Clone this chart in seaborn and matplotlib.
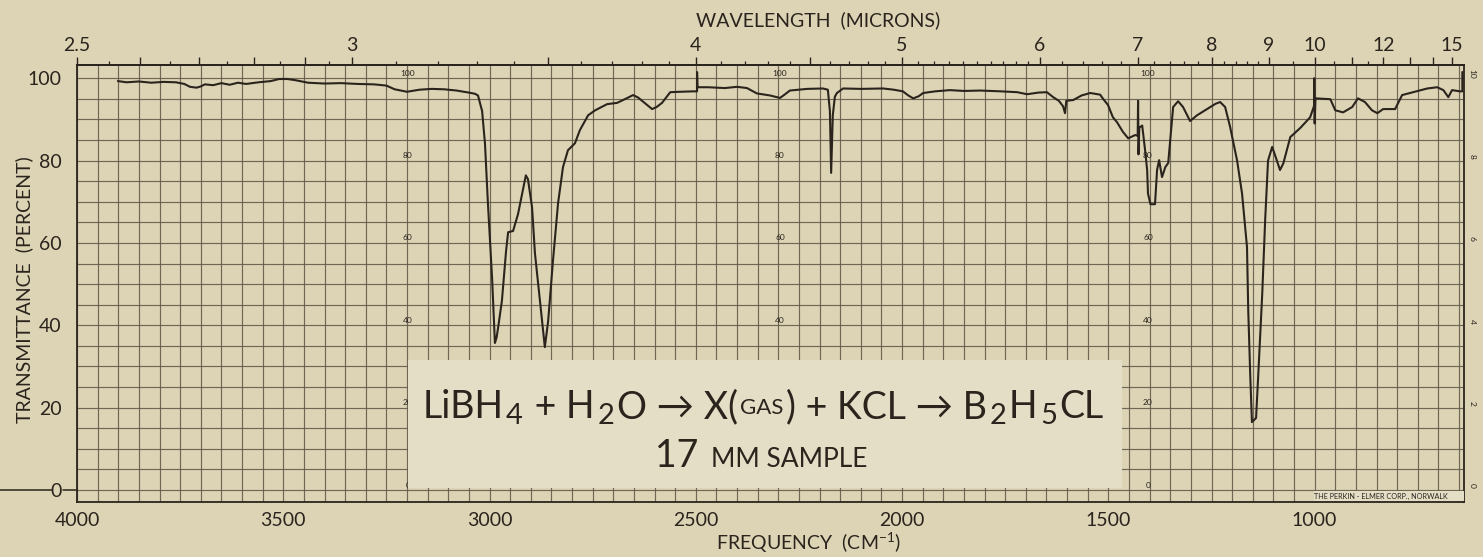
import numpy as np
import pandas as pd
import matplotlib
matplotlib.use("Agg")
import matplotlib.pyplot as plt
import seaborn as sns
from matplotlib.patches import Rectangle
from matplotlib.lines import Line2D

# ---------------- data ----------------
freq = [3901, 3880, 3850, 3820, 3790, 3760, 3740, 3726, 3710, 3700, 3690, 3670, 3650, 3630,
        3610, 3590, 3560, 3530, 3510, 3490, 3470, 3440, 3400, 3360, 3320, 3280, 3250, 3230,
        3200, 3170, 3140, 3110, 3080, 3050, 3035, 3028, 3018, 3011, 3004, 2994, 2987, 2983,
        2979, 2970, 2960, 2955, 2943, 2931, 2921, 2912, 2907, 2897, 2890, 2878, 2866, 2858,
        2846, 2834, 2822, 2810, 2800, 2793, 2781, 2761, 2744, 2715, 2691, 2670, 2652, 2640,
        2628, 2606, 2595, 2582, 2562, 2538, 2507, 2497, 2497, 2496, 2470, 2430, 2400, 2376,
        2352, 2320, 2296, 2285, 2272, 2230, 2192, 2180, 2175, 2172, 2168, 2163, 2158, 2143,
        2100, 2046, 2020, 1998, 1985, 1973, 1960, 1949, 1920, 1884, 1850, 1811, 1760, 1721,
        1697, 1670, 1649, 1634, 1620, 1610, 1605, 1602, 1585, 1565, 1544, 1520, 1513, 1501,
        1489, 1479, 1465, 1452, 1435, 1429, 1428, 1427, 1425, 1418, 1411, 1406, 1404, 1398,
        1387, 1382, 1377, 1370, 1362, 1355, 1350, 1343, 1331, 1319, 1302, 1285, 1261, 1240,
        1229, 1217, 1205, 1188, 1176, 1164, 1161, 1156, 1152, 1142, 1137, 1127, 1120, 1113,
        1103, 1096, 1084, 1076, 1059, 1035, 1011, 1003, 1001, 1001, 1000, 998, 980, 962,
        950, 931, 909, 895, 878, 861, 848, 834, 805, 788, 761, 727, 703, 688, 676, 667,
        647, 642, 642]
trans = [99.3, 99.0, 99.2, 98.9, 99.1, 99.0, 98.6, 97.9, 97.7, 98.0, 98.5, 98.3, 98.8, 98.4,
         98.9, 98.6, 99.0, 99.3, 99.8, 99.8, 99.5, 98.9, 98.7, 98.8, 98.6, 98.5, 98.2, 97.3,
         96.7, 97.2, 97.4, 97.3, 97.0, 96.5, 96.2, 95.8, 92.0, 84.0, 69.7, 51.7, 35.7, 37.0,
         39.6, 46.0, 58.0, 62.6, 62.9, 67.0, 72.0, 76.4, 75.5, 68.7, 57.5, 46.0, 34.7, 41.0,
         56.0, 69.6, 78.4, 82.5, 83.5, 84.2, 87.4, 91.0, 92.2, 93.7, 94.0, 95.0, 95.9, 95.3,
         94.3, 92.5, 93.0, 94.0, 96.6, 96.7, 96.8, 96.8, 101.5, 97.8, 97.8, 97.6, 97.9, 97.6,
         96.3, 95.8, 95.2, 96.0, 97.0, 97.4, 97.5, 97.2, 92.0, 77.0, 91.0, 95.5, 96.4, 97.5,
         97.4, 97.5, 97.2, 96.8, 95.8, 95.1, 95.6, 96.4, 96.8, 97.1, 96.9, 97.0, 96.8, 96.6,
         96.1, 96.5, 96.6, 95.4, 94.5, 93.2, 91.5, 94.5, 94.7, 95.8, 96.4, 96.0, 95.0, 93.5,
         90.5, 89.3, 87.0, 85.4, 86.2, 86.0, 94.5, 81.5, 88.0, 88.5, 82.5, 77.7, 72.0, 69.4,
         69.4, 77.7, 80.1, 76.0, 78.4, 79.4, 85.0, 93.0, 94.4, 93.0, 89.6, 91.0, 92.5, 93.8,
         94.2, 93.0, 88.2, 80.0, 72.0, 59.0, 43.7, 27.4, 16.5, 17.5, 27.4, 47.8, 65.5, 80.0,
         83.3, 81.3, 77.7, 79.3, 85.7, 87.9, 90.5, 92.8, 93.5, 100.0, 89.0, 95.1, 95.0, 94.9,
         92.2, 91.7, 93.0, 95.1, 94.2, 92.2, 91.5, 92.5, 92.5, 95.9, 96.6, 97.5, 97.8, 97.1, 95.4, 97.1,
         96.8, 96.8, 101.5]

freq_ticks = [4000, 3500, 3000, 2500, 2000, 1500, 1000]
trans_ticks = [0, 20, 40, 60, 80, 100]
wl_labeled = [2.5, 3, 4, 5, 6, 7, 8, 9, 10, 12, 15]
wl_tall = [2.6, 2.7, 2.8, 2.9, 3.5, 4.5, 11, 13, 14]
wl_short = [2.55, 2.65, 2.75, 2.85, 2.95, 3.1, 3.2, 3.3, 3.4, 3.6, 3.7, 3.8, 3.9,
            4.1, 4.2, 4.3, 4.4, 4.6, 4.7, 4.8, 4.9, 5.1, 5.2, 5.3, 5.4, 5.5, 5.6, 5.7,
            5.8, 5.9, 6.2, 6.4, 6.6, 6.8, 7.2, 7.4, 7.6, 7.8, 8.2, 8.4, 8.6, 8.8, 9.5,
            10.5, 11.5]
# small scale numbers printed on the chart paper (those hidden by the label are omitted)
grid_scale = {3198: [0, 20, 40, 60, 80, 100], 2296: [40, 60, 80, 100],
              1404: [0, 20, 40, 60, 80, 100]}
right_scale = ["10", "8", "6", "4", "2", "0"]

title_pieces = [("LiBH", "big"), ("4", "sub"), (" + H", "big"), ("2", "sub"), ("O → X(", "big"),
                ("GAS", "small"), (") + KCL → B", "big"), ("2", "sub"), ("H", "big"), ("5", "sub"),
                ("CL", "big")]
sample_pieces = [("17 ", "big"), ("MM SAMPLE", "mid")]

# ---------------- style ----------------
sns.set_style("white")
FONT = ["Lato", "DejaVu Sans"]
plt.rcParams["font.family"] = FONT
plt.rcParams["mathtext.default"] = "regular"
BG = "#ddd4b6"
BOX = "#e5dec7"
INK = "#2a241d"
GRID = "#645c4b"

W, H = 1483, 557
fig = plt.figure(figsize=(W / 100, H / 100), dpi=100, facecolor=BG)
L, R, T, B = 77, 1464, 65, 502
ax = fig.add_axes([L / W, 1 - B / H, (R - L) / W, (B - T) / H])
ax.set_facecolor(BG)

df = pd.DataFrame({"freq": freq, "T": trans})
sns.lineplot(data=df, x="freq", y="T", sort=False, estimator=None, color=INK,
             linewidth=1.5, ax=ax, zorder=2)

ax.set_xlim(4000, 638)
ax.set_ylim(-2.9, 103.2)
ax.set_xlabel("")
ax.set_ylabel("")

ax.set_xticks(freq_ticks)
ax.set_xticklabels([str(v) for v in freq_ticks])
ax.set_xticks(np.arange(650, 4001, 50), minor=True)
ax.set_yticks(trans_ticks)
ax.set_yticklabels([str(v) for v in trans_ticks])
ax.set_yticks(np.arange(0, 101, 5), minor=True)
ax.tick_params(axis="x", which="major", direction="out", length=4.5, width=1.0,
               color=INK, labelsize=14, labelcolor=INK, pad=3)
ax.tick_params(axis="both", which="minor", length=0)
ax.tick_params(axis="y", which="major", length=0, labelsize=14, labelcolor=INK, pad=11)
ax.grid(True, which="both", color=GRID, linewidth=0.85, alpha=0.9)
ax.set_axisbelow(True)
for s in ax.spines.values():
    s.set_color(INK)
    s.set_linewidth(1.3)

# top wavelength axis
def f2w(x):
    x = np.asarray(x, dtype=float)
    with np.errstate(divide="ignore"):
        return 1e4 / x

sec = ax.secondary_xaxis("top", functions=(f2w, f2w))
major_w = wl_labeled + wl_tall
major_lab = [("%g" % v) for v in wl_labeled] + [""] * len(wl_tall)
sec.set_xticks(major_w)
sec.set_xticklabels(major_lab)
sec.set_xticks(wl_short, minor=True)
sec.tick_params(which="major", length=6, width=1.0, color=INK, labelsize=14,
                labelcolor=INK, pad=2)
sec.tick_params(which="minor", length=3, width=0.9, color=INK)
sec.spines["top"].set_color(INK)
sec.spines["top"].set_linewidth(1.3)

# pasted label box
ax.add_patch(Rectangle((3198, 0.4), 1467 - 3198, 31.5 - 0.4, facecolor=BOX,
                       edgecolor="none", zorder=3))
# maker strip
ax.add_patch(Rectangle((1001, -2.55), 638 - 1001, 2.2, facecolor=BOX,
                       edgecolor="none", zorder=3))
ax.text(1001, -1.45, "THE PERKIN - ELMER CORP., NORWALK", fontsize=5.2, color=INK,
        va="center", ha="left", zorder=4, clip_on=False)

# small in-grid scale numbers
for fq, vals in grid_scale.items():
    for v in vals:
        ax.text(fq, v + 1.2, str(v), fontsize=6, color=INK, ha="center", va="center",
                zorder=1.5)
for i, s in enumerate(right_scale):
    ax.text(618, 100 - 20 * i + 1, s, fontsize=6, color=INK, ha="center", va="center",
            rotation=-90, clip_on=False)

# line through the 0 label at left
fig.add_artist(Line2D([0, 52 / W], [1 - 490 / H] * 2, color=INK, lw=1.1))
fig.add_artist(Line2D([63 / W, L / W], [1 - 490 / H] * 2, color=INK, lw=1.1))

# axis titles
fig.text(818 / W, 1 - 20 / H, "WAVELENGTH  (MICRONS)", fontsize=14, color=INK,
         ha="center", va="center")
fig.text(809 / W, 1 - 543 / H, "FREQUENCY  (CM$^{-1}$)", fontsize=14, color=INK,
         ha="center", va="center")
fig.text(24 / W, 1 - 290 / H, "TRANSMITTANCE  (PERCENT)", fontsize=14, color=INK,
         ha="center", va="center", rotation=90)

# composed label text
renderer = fig.canvas.get_renderer()
SIZES = {"big": 27, "sub": 21, "small": 16, "mid": 19}
SHIFT = {"big": 0, "sub": 6, "small": -4, "mid": 0}
GAP = 2.5

def compose(pieces, xc, base):
    placed = []
    x = 0.0
    for s, kind in pieces:
        t = fig.text(0, 0, s, fontsize=SIZES[kind], color=INK, va="baseline", ha="left",
                     zorder=5)
        w = t.get_window_extent(renderer).width
        placed.append((t, x, SHIFT[kind]))
        x += w + GAP
    x -= GAP
    x0 = xc - x / 2
    for t, xo, dy in placed:
        t.set_position(((x0 + xo) / W, 1 - (base + dy) / H))

compose(title_pieces, 763, 418)
compose(sample_pieces, 761, 467)

fig.savefig("out.png", dpi=100, facecolor=BG)
